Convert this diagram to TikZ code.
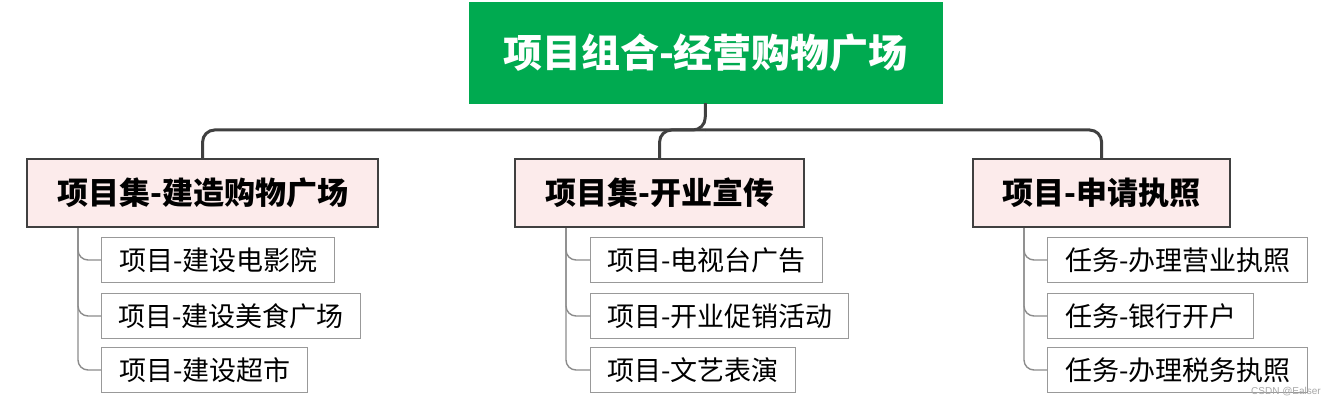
\documentclass[tikz,border=0pt]{standalone}
\usepackage{fontspec}
\newfontfamily\cjk{Noto Sans CJK SC}
\setmainfont{Liberation Sans}
\begin{document}
\begin{tikzpicture}[x=1pt,y=-1pt,
 rootbox/.style={fill=rootgreen,draw=rootgreen,text=white,font=\cjk\bfseries\fontsize{39}{44}\selectfont,minimum width=473,minimum height=101,inner sep=0},
 midbox/.style={fill=pinkfill,draw=darkline,line width=2.2,font=\cjk\bfseries\fontsize{31}{36}\selectfont,minimum height=68,inner sep=0,anchor=north west},
 leafbox/.style={fill=white,draw=gray!80,line width=1.4,font=\cjk\fontsize{27}{31}\selectfont,minimum height=45,inner sep=0,anchor=west},
 trunk/.style={draw=darkline,line width=3,rounded corners=12},
 twig/.style={draw=gray!90,line width=1.4,rounded corners=10}]
\definecolor{rootgreen}{HTML}{00AA50}
\definecolor{pinkfill}{HTML}{FCEBEB}
\definecolor{darkline}{HTML}{404040}
\useasboundingbox (0,0) rectangle (1323,403);
\node[rootbox] (root) at (705.5,52.5) {项目组合-经营购物广场};
\node[midbox,minimum width=351] (c1) at (26,158) {项目集-建造购物广场};
\node[midbox,minimum width=289] (c2) at (514,158) {项目集-开业宣传};
\node[midbox,minimum width=257] (c3) at (972,158) {项目-申请执照};
\coordinate (h) at (705,130);
\draw[trunk] (root.south) -- (h) -| (c1.north);
\draw[trunk] (h) -| (c3.north);
\draw[trunk] (h) -| (c2.north);
% leaves
\node[leafbox,minimum width=233] (l11) at (101,260) {项目-建设电影院};
\node[leafbox,minimum width=259] (l12) at (101,316) {项目-建设美食广场};
\node[leafbox,minimum width=206] (l13) at (101,370) {项目-建设超市};
\node[leafbox,minimum width=232] (l21) at (590,260) {项目-电视台广告};
\node[leafbox,minimum width=258] (l22) at (590,316) {项目-开业促销活动};
\node[leafbox,minimum width=205] (l23) at (590,370) {项目-文艺表演};
\node[leafbox,minimum width=260] (l31) at (1047,260) {任务-办理营业执照};
\node[leafbox,minimum width=206] (l32) at (1047,316) {任务-银行开户};
\node[leafbox,minimum width=260] (l33) at (1047,370) {任务-办理税务执照};
\foreach \c/\a/\b/\d in {c1/l11/l12/l13,c2/l21/l22/l23,c3/l31/l32/l33}{
  \draw[twig] (\c.south west) ++(52,0) |- (\a.west);
  \draw[twig] (\c.south west) ++(52,0) |- (\b.west);
  \draw[twig] (\c.south west) ++(52,0) |- (\d.west);
}
\node[text=gray!70,font=\fontsize{10}{11}\selectfont,anchor=south east,inner sep=2] (wm) at (1323,398) {CSDN @Ealser};
\end{tikzpicture}
\end{document}
